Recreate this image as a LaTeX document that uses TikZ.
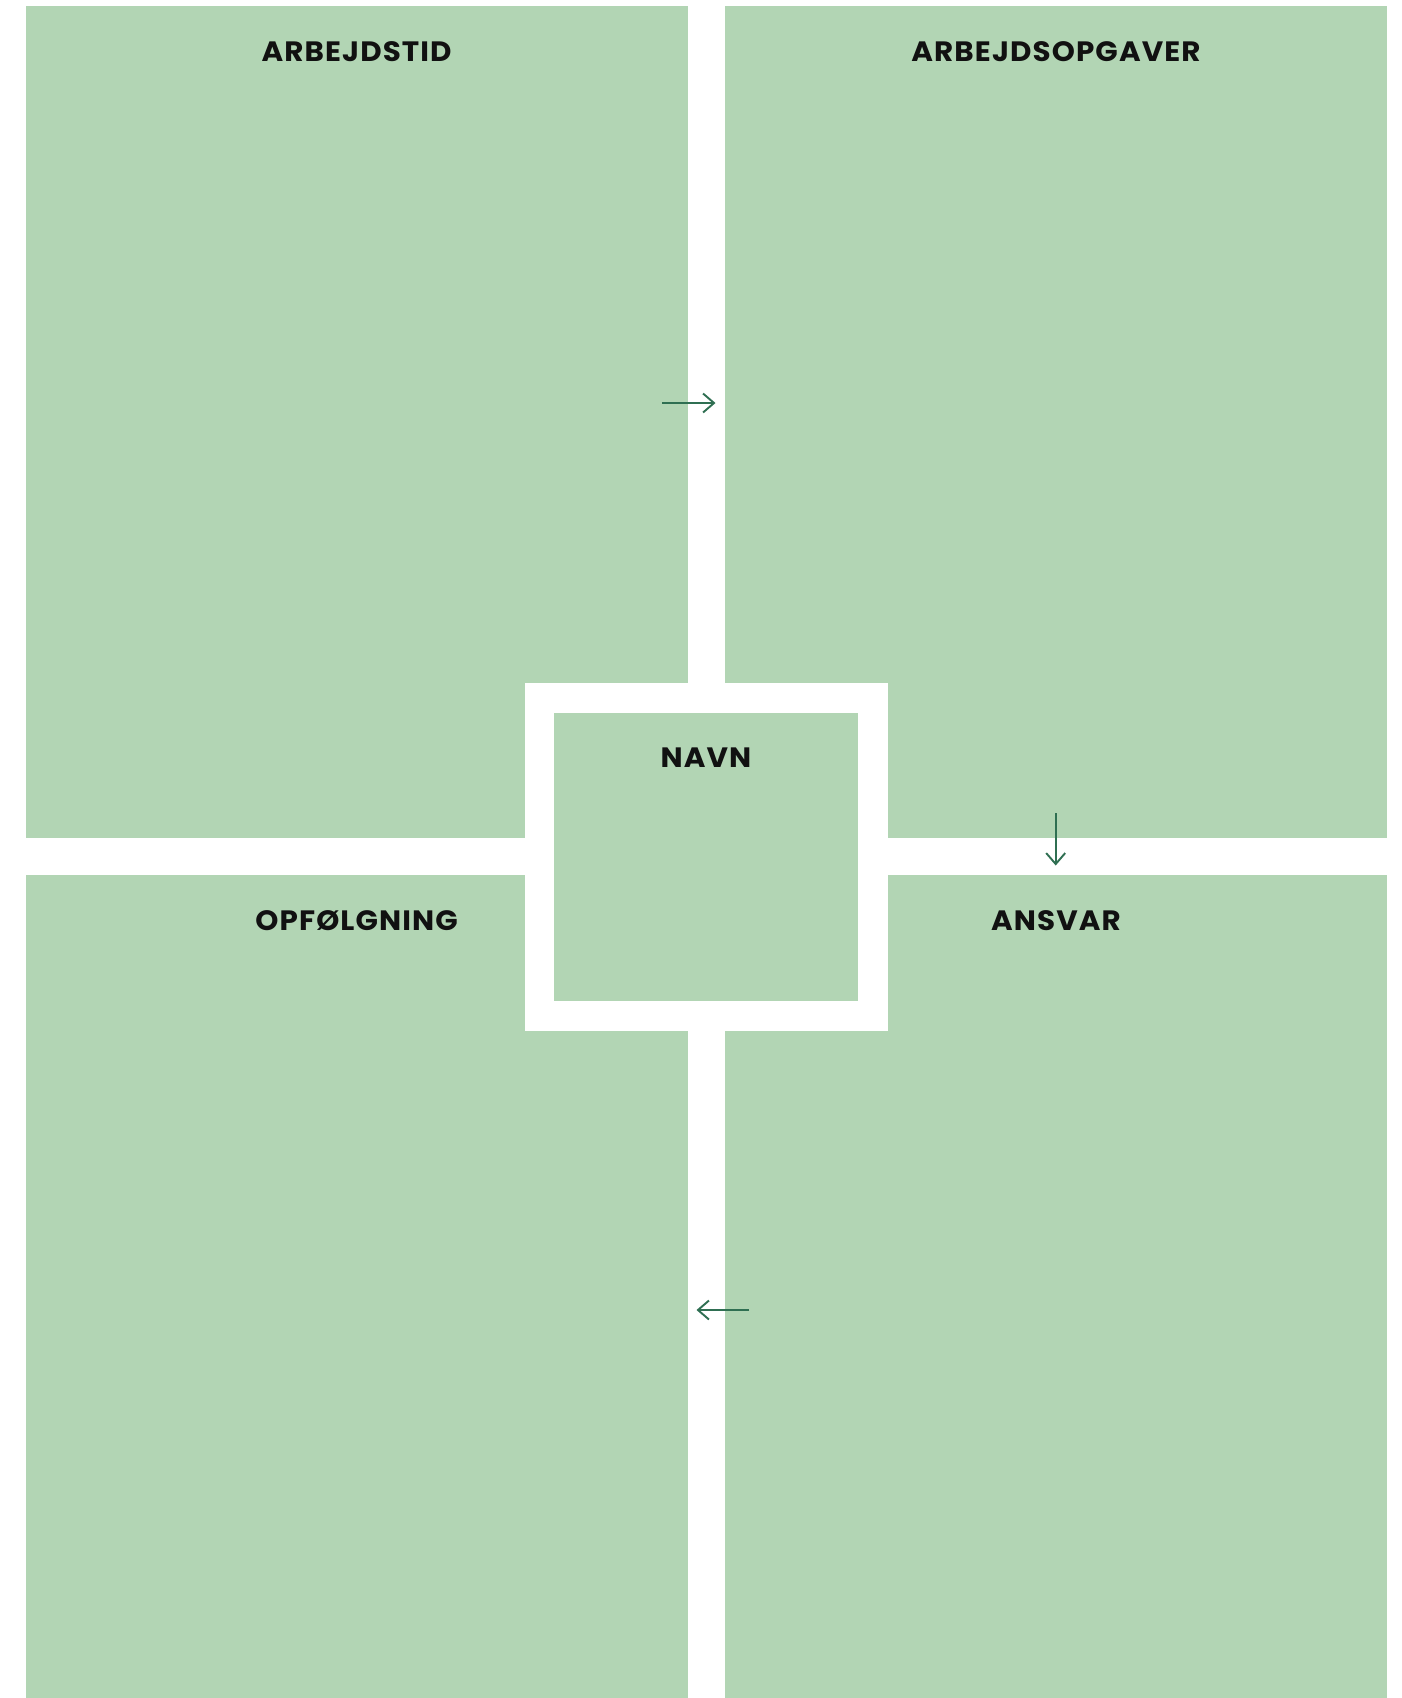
\documentclass[tikz,border=0pt]{standalone}
\usepackage{fontspec}
\setmainfont{Poppins}
\newfontfamily\titlefont{Poppins}[FakeStretch=1.05,LetterSpace=4]
\usetikzlibrary{arrows.meta}
\definecolor{panel}{HTML}{B2D5B4}
\definecolor{arrowc}{HTML}{2F6F52}
\definecolor{titlec}{HTML}{111111}
\tikzset{
  panelfill/.style={fill=panel},
  title/.style={text=titlec, font=\titlefont\fontsize{28}{30}\selectfont\bfseries, inner sep=0pt, anchor=center},
  flowarrow/.style={draw=arrowc, line width=1.9pt, -{Straight Barb[length=11pt,width=19pt,line width=1.9pt]}}
}
\begin{document}
\begin{tikzpicture}[x=1pt,y=-1pt]
\useasboundingbox (0,0) rectangle (1401,1698);
\fill[white] (0,0) rectangle (1401,1698);
% panels
\fill[panelfill] (25.5,6) rectangle (687.7,837.7);
\fill[panelfill] (725,6) rectangle (1387,837.7);
\fill[panelfill] (25.5,875) rectangle (687.7,1698);
\fill[panelfill] (725,875) rectangle (1387,1698);
% centre frame
\fill[white] (524.7,683) rectangle (887.7,1030.7);
\fill[panelfill] (554.3,712.7) rectangle (857.7,1000.7);
% titles
\node[title] (t1) at (356.6,52) {ARBEJDSTID};
\node[title] (t2) at (1056,52) {ARBEJDSOPGAVER};
\node[title] (t3) at (356.6,921) {OPFØLGNING};
\node[title] (t4) at (1056,921) {ANSVAR};
\node[title] (t5) at (706,758) {NAVN};
% arrows
\coordinate (a1s) at (662,403);
\coordinate (a1e) at (715.5,403);
\coordinate (a2s) at (1055.7,813);
\coordinate (a2e) at (1055.7,865.5);
\coordinate (a3s) at (749,1310);
\coordinate (a3e) at (696.5,1310);
\draw[flowarrow] (a1s) -- (a1e);
\draw[flowarrow] (a2s) -- (a2e);
\draw[flowarrow] (a3s) -- (a3e);
\end{tikzpicture}
\end{document}
